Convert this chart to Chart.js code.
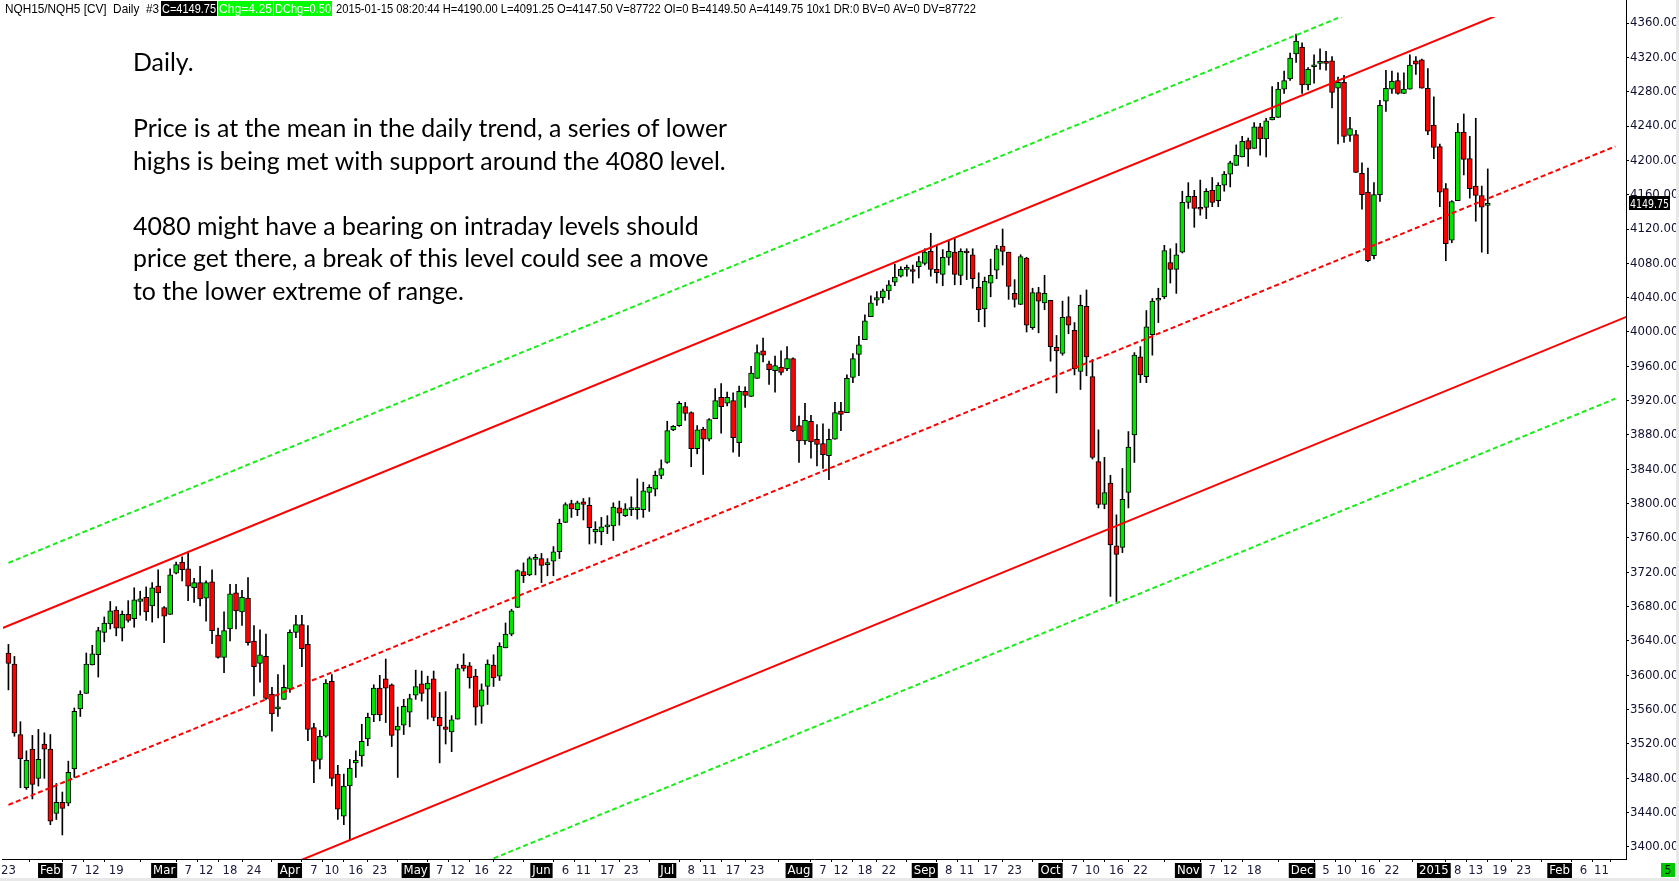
<!DOCTYPE html>
<html><head><meta charset="utf-8">
<script src="https://cdn.jsdelivr.net/npm/chart.js@4.4.1/dist/chart.umd.min.js"></script>
<style>html,body{margin:0;padding:0;background:#fff;overflow:hidden}canvas{display:block}</style>
</head><body>
<canvas id="c" width="1679" height="881"></canvas>
<script>
// ---- Daily OHLC, NQH15 continuous, 2014-01-23 .. 2015-01-15 (one entry per trading day) ----
const opens = [
3626,3613,3531,3469,3514,3480,3520,3514,3439,3452,
3451,3491,3561,3579,3612,3624,3650,3660,3676,3655,
3671,3666,3686,3691,3681,3704,3679,3671,3719,3732,
3724,3702,3708,3690,3709,3647,3621,3654,3696,3674,
3690,3640,3614,3622,3578,3561,3572,3584,3650,3659,
3636,3539,3502,3529,3593,3485,3436,3471,3498,3506,
3526,3554,3585,3596,3589,3536,3542,3557,3577,3590,
3584,3596,3551,3540,3534,3549,3612,3611,3599,3564,
3587,3612,3599,3632,3648,3679,3721,3717,3735,3736,
3729,3733,3744,3778,3800,3793,3802,3798,3767,3767,
3773,3774,3795,3786,3793,3793,3793,3813,3817,3833,
3848,3886,3891,3913,3906,3864,3887,3875,3899,3924,
3917,3920,3871,3931,3925,3946,3978,3963,3955,3959,
3957,3969,3891,3873,3896,3875,3870,3856,3875,3908,
3906,3947,3974,3991,4018,4037,4040,4048,4058,4065,
4073,4072,4076,4080,4094,4073,4067,4087,4093,4066,
4094,4090,4052,4027,4057,4072,4100,4093,4045,4032,
4086,4005,4046,4034,4037,3982,3975,4018,4002,3954,
4030,3948,3849,3799,3824,3751,3749,3813,3880,3971,
3948,3997,4037,4041,4081,4073,4093,4151,4158,4145,
4145,4165,4153,4171,4184,4194,4204,4223,4214,4239,
4225,4247,4250,4283,4295,4324,4332,4288,4309,4313,
4314,4316,4284,4291,4229,4230,4185,4163,4089,4160,
4269,4283,4293,4278,4283,4316,4317,4284,4241,4216,
4167,4107,4153,4233,4202,4170,4159,4147.5];
const highs = [
3636,3622,3546,3512,3530,3537,3533,3531,3474,3464,
3500,3562,3582,3626,3635,3656,3668,3686,3680,3675,
3687,3702,3698,3703,3708,3723,3680,3724,3732,3738,
3742,3713,3727,3710,3723,3655,3674,3706,3706,3699,
3714,3658,3653,3648,3586,3601,3612,3653,3670,3670,
3658,3544,3536,3595,3601,3495,3485,3502,3512,3543,
3556,3589,3600,3619,3590,3563,3572,3578,3606,3605,
3599,3605,3580,3581,3553,3613,3625,3615,3607,3590,
3618,3624,3638,3661,3677,3723,3731,3738,3741,3742,
3736,3750,3782,3801,3804,3803,3806,3807,3779,3784,
3786,3801,3803,3800,3808,3829,3825,3822,3838,3851,
3896,3891,3919,3918,3907,3891,3889,3899,3934,3940,
3930,3929,3937,3936,3960,3985,3993,3966,3972,3978,
3983,3970,3902,3917,3903,3892,3893,3887,3918,3918,
3950,3975,3995,4020,4042,4047,4050,4060,4079,4076,
4078,4078,4088,4097,4115,4101,4096,4106,4109,4097,
4097,4097,4069,4064,4085,4101,4120,4093,4061,4090,
4087,4051,4052,4066,4037,3996,4036,4041,4011,4043,
4049,3968,3886,3854,3833,3787,3841,3884,3976,3983,
4025,4039,4051,4101,4097,4103,4164,4174,4165,4177,
4167,4180,4174,4187,4199,4218,4228,4226,4244,4243,
4249,4286,4291,4304,4325,4347,4337,4308,4323,4330,
4327,4321,4297,4299,4250,4235,4197,4191,4174,4270,
4305,4304,4302,4302,4323,4321,4318,4307,4274,4219,
4173,4153,4243,4254,4228,4249,4170,4190];
const lows = [
3583,3529,3469,3467,3456,3471,3480,3426,3432,3414,
3448,3481,3552,3579,3612,3598,3639,3654,3646,3640,
3662,3656,3670,3664,3662,3667,3638,3671,3718,3710,
3687,3685,3681,3663,3637,3620,3603,3640,3654,3658,
3635,3576,3592,3572,3535,3552,3572,3580,3644,3610,
3524,3475,3491,3528,3471,3432,3426,3408,3481,3494,
3518,3546,3547,3545,3517,3481,3531,3540,3572,3570,
3549,3547,3498,3520,3511,3549,3605,3585,3542,3544,
3566,3587,3594,3632,3646,3679,3708,3716,3717,3708,
3716,3716,3736,3778,3784,3786,3781,3753,3754,3752,
3765,3757,3775,3785,3786,3782,3784,3791,3809,3829,
3847,3885,3890,3897,3843,3858,3834,3873,3899,3882,
3914,3860,3855,3912,3925,3946,3965,3939,3930,3950,
3955,3884,3848,3869,3853,3844,3841,3828,3875,3885,
3906,3941,3949,3991,4018,4031,4034,4038,4054,4064,
4065,4057,4063,4078,4065,4057,4054,4078,4055,4055,
4061,4051,4012,4006,4041,4062,4078,4038,4029,4032,
4000,4003,3999,4026,3966,3929,3973,3998,3950,3933,
3949,3852,3795,3794,3692,3686,3743,3795,3848,3941,
3941,3973,4011,4039,4057,4045,4092,4144,4122,4136,
4132,4146,4146,4164,4169,4194,4204,4193,4214,4206,
4204,4247,4250,4278,4293,4314,4278,4282,4290,4306,
4305,4261,4219,4221,4222,4186,4143,4082,4085,4152,
4257,4278,4277,4278,4283,4300,4284,4230,4202,4146,
4083,4104,4153,4183,4156,4129,4093,4091.25];
const closes = [
3614,3533,3503,3501,3473,3502,3514,3430,3452,3445,
3487,3558,3578,3613,3625,3652,3661,3675,3655,3671,
3664,3688,3689,3674,3702,3696,3669,3717,3729,3723,
3704,3708,3689,3708,3652,3621,3652,3695,3675,3691,
3638,3610,3624,3573,3555,3563,3586,3650,3659,3631,
3537,3500,3529,3591,3480,3444,3471,3492,3501,3523,
3551,3585,3554,3585,3530,3541,3564,3573,3587,3579,
3591,3551,3541,3537,3548,3608,3608,3597,3563,3583,
3613,3597,3634,3648,3675,3722,3716,3736,3736,3728,
3731,3744,3777,3799,3794,3801,3799,3772,3770,3773,
3773.5,3796,3789,3794,3795,3795,3815,3819,3833,3841,
3885,3890,3917,3905,3864,3886,3875,3898,3920,3913,
3924,3877,3931,3926,3952,3976,3973,3956,3961,3953,
3969,3885,3873,3897,3872,3869,3857,3875,3906,3904,
3946,3969,3985,4013,4034,4040,4048,4055,4064,4073,
4074,4070.5,4082,4093,4073,4069,4087,4094,4067,4094,
4092,4062,4026,4059,4066,4097,4094,4053,4038,4088,
4008,4046,4036,4045,3983,3978,4017,4008,3957,4031,
3971,3854,3799,3813,3752,3741,3805,3866,3973,3950,
4006,4036,4039,4095,4073,4090,4151,4158,4144,4143,
4164,4151,4171,4184,4197,4206,4222,4213,4239,4225,
4246,4250,4283,4293,4319,4339,4288,4306,4311,4314,
4313,4279,4291,4228,4237,4186,4160,4083,4160,4264,
4284,4292,4278,4283,4311,4312,4284,4234,4215,4163,
4103,4152,4233,4201,4167,4159,4145.5,4149.75];

// ---- trend channel (bar index, price) ----
const upperChannel = [{x:-1, y:3655.1}, {x:268.3, y:4425.3}];
const midChannel   = [{x:0, y:3449}, {x:268.3, y:4216.3}];
const lowerChannel = [{x:40, y:3359.4}, {x:271, y:4020.1}];
const upperBand    = [{x:0, y:3731}, {x:268.3, y:4498.3}];
const lowerBand    = [{x:60, y:3326.6}, {x:268.3, y:3922.3}];

// ---- axes ----
const yTicks = [3400,3440,3480,3520,3560,3600,3640,3680,3720,3760,3800,3840,3880,3920,3960,4000,4040,4080,4120,4160,4200,4240,4280,4320,4360];
const xTickIdx = [0,7,11,14,18,26,30,33,37,41,47,51,54,58,62,68,72,75,79,83,89,93,96,100,104,110,114,117,121,125,132,136,139,143,147,153,157,160,164,168,174,178,181,185,189,197,201,204,208,216,220,223,227,231,238,242,245,249,253,259,263,266];
const xTickText = ['23','Feb','7','12','19','Mar','7','12','18','24','Apr','7','10','16','23','May','7','12','16','22','Jun','6','11','17','23','Jul','8','11','17','23','Aug','7','12','18','22','Sep','8','11','17','23','Oct','7','10','16','22','Nov','7','12','18','Dec','5','10','16','22','2015','8','13','19','23','Feb','6','11'];

const headerLead = 'NQH15/NQH5 [CV]  Daily  #3';
const headerTail = '2015-01-15 08:20:44 H=4190.00 L=4091.25 O=4147.50 V=87722 OI=0 B=4149.50 A=4149.75 10x1 DR:0 BV=0 AV=0 DV=87722';
const noteLines = [
  ['Daily.', 71],
  ['Price is at the mean in the daily trend, a series of lower', 137],
  ['highs is being met with support around the 4080 level.', 169.5],
  ['4080 might have a bearing on intraday levels should', 234.5],
  ['price get there, a break of this level could see a move', 267],
  ['to the lower extreme of range.', 299.5]
];

function fontAvailable(name){
  const c = document.createElement('canvas').getContext('2d');
  const s = 'abcdefghij0123456789ABC';
  c.font = '40px monospace'; const a = c.measureText(s).width;
  c.font = "40px '" + name + "', monospace"; const b = c.measureText(s).width;
  return Math.abs(a-b) > 0.5;
}
const narrow = fontAvailable('Liberation Sans Narrow') ? "'Liberation Sans Narrow'" :
               (fontAvailable('DejaVu Sans Condensed') ? "'DejaVu Sans Condensed'" : "'Liberation Sans'");
const noteFam = fontAvailable('Lato') ? 'Lato' : 'Open Sans';

const GREEN = '#00e400', RED = '#ff0000';
const isUp = closes.map((c,i)=> c >= opens[i]);
const wickData = lows.map((l,i)=>({x:i, y:[l, highs[i]]}));
const bodyData = opens.map((o,i)=>({x:i, y:[Math.min(o,closes[i]), Math.max(o,closes[i])]}));

function fitText(ctx, text, x, base, width, font, color){
  ctx.font = font;
  const w = ctx.measureText(text).width;
  ctx.save(); ctx.translate(x, base); ctx.scale(width / w, 1);
  ctx.fillStyle = color; ctx.textBaseline = 'alphabetic'; ctx.textAlign = 'left';
  ctx.fillText(text, 0, 0); ctx.restore();
}

const overlay = {
  id: 'overlay',
  beforeDraw(chart){
    const ctx = chart.ctx; ctx.save(); ctx.fillStyle = '#fff';
    ctx.fillRect(0,0,chart.width,chart.height); ctx.restore();
  },
  afterDraw(chart){
    const ctx = chart.ctx, ya = chart.scales.y, ca = chart.chartArea;
    ctx.save();
    // axis line extension above plot
    ctx.strokeStyle = '#000'; ctx.lineWidth = 1;
    ctx.beginPath(); ctx.moveTo(ca.right + 0.5, 0); ctx.lineTo(ca.right + 0.5, ca.top); ctx.stroke();
    // header
    const hf = "13px 'Liberation Sans', Arial, sans-serif";
    fitText(ctx, headerLead, 5, 13, 154, hf, '#000');
    ctx.fillStyle = '#000'; ctx.fillRect(161, 1, 56, 15);
    fitText(ctx, 'C=4149.75', 162, 13, 54, hf, '#fff');
    ctx.fillStyle = '#00ff00'; ctx.fillRect(218, 1, 55, 15);
    fitText(ctx, 'Chg=4.25', 219, 13, 53, hf, '#fff');
    ctx.fillStyle = '#00ff00'; ctx.fillRect(274, 1, 58, 15);
    fitText(ctx, 'DChg=0.50', 275, 13, 56, hf, '#fff');
    fitText(ctx, headerTail, 336, 13, 640, hf, '#000');
    // note
    ctx.font = '100px ' + noteFam;
    const w = ctx.measureText(noteLines[1][0]).width;
    const size = 100 * 594 / w;
    ctx.font = size.toFixed(2) + 'px ' + noteFam;
    ctx.fillStyle = '#000'; ctx.textBaseline = 'alphabetic'; ctx.textAlign = 'left';
    noteLines.forEach(([t, b]) => ctx.fillText(t, 133, b));
    // last price marker
    const last = closes[closes.length-1];
    const py = Math.round(ya.getPixelForValue(last));
    ctx.fillStyle = '#000'; ctx.fillRect(ca.right + 3, py - 7, 41, 14);
    fitText(ctx, last.toFixed(2), ca.right + 4, py + 5, 39, '13px ' + narrow, '#fff');
    // bottom strips
    ctx.fillStyle = '#e8e8e8'; ctx.fillRect(0, 878, chart.width, 3); ctx.fillRect(1676, 0, 3, chart.height);
    ctx.fillStyle = '#00c800'; ctx.fillRect(1661, 863, 14, 14);
    ctx.fillStyle = '#111'; ctx.font = '12px ' + narrow; ctx.textAlign = 'center'; ctx.textBaseline = 'middle';
    ctx.fillText('5', 1668, 870.5);
    ctx.restore();
  }
};

const lineDs = (data, color, dash) => ({
  type: 'line', data, borderColor: color, borderWidth: 2, borderDash: dash || [],
  pointRadius: 0, fill: false, tension: 0, order: 0
});

new Chart(document.getElementById('c'), {
  type: 'bar',
  data: {
    datasets: [
      lineDs(upperChannel, RED),
      lineDs(lowerChannel, RED),
      lineDs(midChannel, RED, [5,3]),
      lineDs(upperBand, '#1aee1a', [5,3]),
      lineDs(lowerBand, '#1aee1a', [5,3]),
      { type: 'bar', data: bodyData, grouped: false, barThickness: 5, minBarLength: 2,
        backgroundColor: isUp.map(u => u ? GREEN : RED), borderColor: '#000', borderWidth: 1,
        borderSkipped: false, order: 1 },
      { type: 'bar', data: wickData, grouped: false, barThickness: 1,
        backgroundColor: '#000', borderWidth: 0, order: 2 }
    ]
  },
  options: {
    responsive: false, animation: false, devicePixelRatio: 1,
    layout: { padding: { top: 17, left: 0, right: 0, bottom: 0 }, autoPadding: false },
    plugins: { legend: { display: false }, tooltip: { enabled: false } },
    scales: {
      x: {
        type: 'linear', min: -0.9167, max: 270.083, offset: false,
        afterBuildTicks: s => { s.ticks = xTickIdx.map(v => ({ value: v })); },
        afterFit: s => { s.height = 22; },
        grid: { drawOnChartArea: false, drawTicks: true, tickLength: 3, color: '#000' },
        border: { display: true, color: '#000', width: 1 },
        ticks: {
          autoSkip: false, maxRotation: 0, minRotation: 0, padding: 1,
          font: { family: narrow, size: 13 },
          callback: (v, i) => xTickText[i],
          color: c => /^[A-Z]|^2015$/.test(xTickText[c.index] || '') ? '#fff' : '#1a1a3a',
          showLabelBackdrop: c => /^[A-Z]|^2015$/.test(xTickText[c.index] || ''),
          backdropColor: '#000', backdropPadding: { x: 2, y: 0 }
        }
      },
      y: {
        type: 'linear', position: 'right', min: 3386, max: 4367,
        afterBuildTicks: s => { s.ticks = yTicks.map(v => ({ value: v })); },
        afterFit: s => { s.width = 53; },
        grid: { drawOnChartArea: false, drawTicks: true, tickLength: 3, color: '#000' },
        border: { display: true, color: '#000', width: 1 },
        ticks: { padding: 1, color: '#101030', font: { family: narrow, size: 13 },
                 callback: v => Number(v).toFixed(2) }
      }
    }
  },
  plugins: [overlay]
});
</script>
</body></html>
